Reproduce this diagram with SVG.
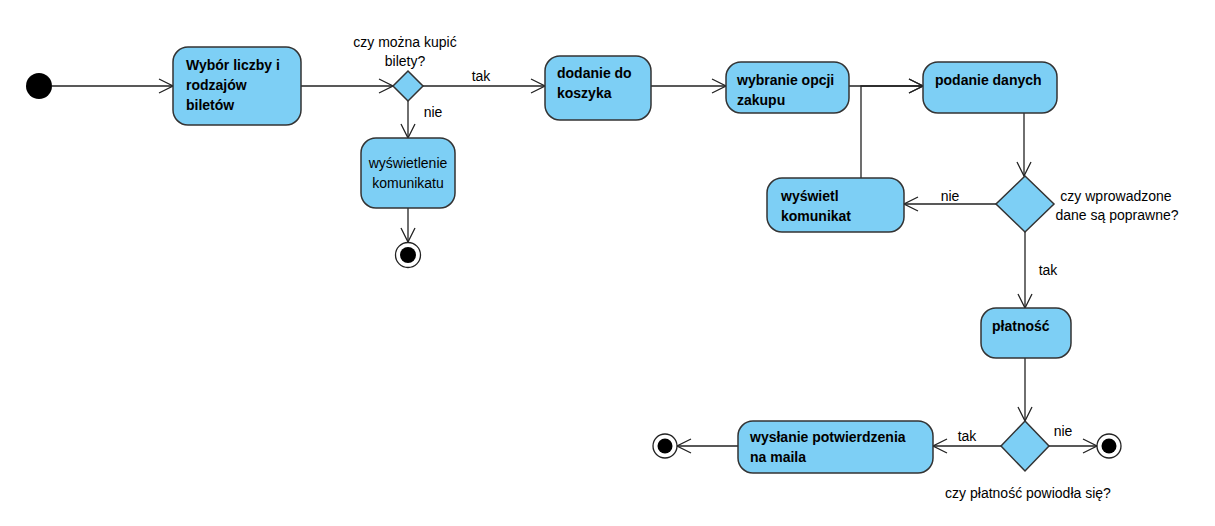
<svg xmlns="http://www.w3.org/2000/svg" width="1215" height="526" viewBox="0 0 1215 526">
  <defs>
    <marker id="arrow" viewBox="0 0 16 16" refX="15" refY="8" markerWidth="16" markerHeight="16" markerUnits="userSpaceOnUse" orient="auto">
      <path d="M1,1 L15,8 L1,15" fill="none" stroke="#222" stroke-width="1.3"/>
    </marker>
    <style>
      .node rect, .node polygon { fill: #7dcff5; stroke: #333; stroke-width: 1.5; }
      .bold { font-family: "Liberation Sans", Arial, sans-serif; font-size: 14px; font-weight: bold; fill: #000; }
      .txt { font-family: "Liberation Sans", Arial, sans-serif; font-size: 14px; fill: #000; }
      .mid { text-anchor: middle; }
      .conn line, .conn polyline { fill: none; stroke: #222; stroke-width: 1.3; marker-end: url(#arrow); }
    </style>
  </defs>
  <rect width="1215" height="526" fill="#fff"/>

  <!-- connectors -->
  <g id="connectors" class="conn">
    <line x1="52" y1="86" x2="173" y2="86"/>
    <line x1="301" y1="86" x2="393" y2="86"/>
    <line x1="423" y1="86" x2="545" y2="86"/>
    <line x1="408" y1="101" x2="408" y2="138"/>
    <line x1="408" y1="208" x2="408" y2="242"/>
    <line x1="651" y1="86" x2="726" y2="86"/>
    <line x1="849" y1="86" x2="923" y2="86"/>
    <polyline points="861,178 861,86 923,86"/>
    <line x1="1024" y1="113" x2="1024" y2="176"/>
    <line x1="996" y1="204" x2="904" y2="204"/>
    <line x1="1025" y1="232" x2="1025" y2="308"/>
    <line x1="1025" y1="358" x2="1025" y2="421"/>
    <line x1="1001" y1="446" x2="933" y2="446"/>
    <line x1="1049" y1="446" x2="1097" y2="446"/>
    <line x1="738" y1="446" x2="677" y2="446"/>
  </g>

  <!-- connector labels -->
  <g id="labels" class="txt">
    <text x="481" y="81" class="mid">tak</text>
    <text x="433" y="117" class="mid">nie</text>
    <text x="950" y="201" class="mid">nie</text>
    <text x="1048" y="275" class="mid">tak</text>
    <text x="967" y="441" class="mid">tak</text>
    <text x="1063" y="436" class="mid">nie</text>
  </g>

  <!-- start -->
  <g id="start">
    <circle cx="39" cy="86" r="13" fill="#000"/>
  </g>

  <g id="wybor" class="node">
    <rect x="173" y="47" width="128" height="78" rx="15"/>
    <text x="186" y="70" class="bold">Wybór liczby i</text>
    <text x="186" y="90" class="bold">rodzajów</text>
    <text x="186" y="110" class="bold">biletów</text>
  </g>

  <g id="decyzja-kupno" class="node">
    <polygon points="408,71 423,86 408,101 393,86"/>
    <text x="405" y="47" class="txt mid">czy można kupić</text>
    <text x="405" y="66" class="txt mid">bilety?</text>
  </g>

  <g id="wyswietlenie" class="node">
    <rect x="361" y="138" width="94" height="70" rx="15"/>
    <text x="408" y="168" class="txt mid">wyświetlenie</text>
    <text x="408" y="188" class="txt mid">komunikatu</text>
  </g>

  <g id="koniec-1">
    <circle cx="408" cy="255" r="12.5" fill="#fff" stroke="#222" stroke-width="1.3"/>
    <circle cx="408" cy="255" r="8" fill="#000"/>
  </g>

  <g id="dodanie" class="node">
    <rect x="545" y="56" width="106" height="64" rx="15"/>
    <text x="557" y="78" class="bold">dodanie do</text>
    <text x="557" y="98" class="bold">koszyka</text>
  </g>

  <g id="wybranie" class="node">
    <rect x="726" y="62" width="123" height="51" rx="15"/>
    <text x="737" y="85" class="bold">wybranie opcji</text>
    <text x="737" y="105" class="bold">zakupu</text>
  </g>

  <g id="podanie" class="node">
    <rect x="923" y="62" width="134" height="51" rx="15"/>
    <text x="935" y="85" class="bold">podanie danych</text>
  </g>

  <g id="wyswietl" class="node">
    <rect x="767" y="178" width="137" height="54" rx="15"/>
    <text x="781" y="201" class="bold">wyświetl</text>
    <text x="781" y="221" class="bold">komunikat</text>
  </g>

  <g id="decyzja-dane" class="node">
    <polygon points="1025,176 1054,204 1025,232 996,204"/>
    <text x="1116" y="201" class="txt mid">czy wprowadzone</text>
    <text x="1117" y="220" class="txt mid">dane są poprawne?</text>
  </g>

  <g id="platnosc" class="node">
    <rect x="981" y="308" width="90" height="50" rx="15"/>
    <text x="992" y="331" class="bold">płatność</text>
  </g>

  <g id="decyzja-platnosc" class="node">
    <polygon points="1025,421 1049,446 1025,471 1001,446"/>
    <text x="1028" y="498" class="txt mid">czy płatność powiodła się?</text>
  </g>

  <g id="wyslanie" class="node">
    <rect x="738" y="421" width="195" height="52" rx="15"/>
    <text x="750" y="442" class="bold">wysłanie potwierdzenia</text>
    <text x="750" y="462" class="bold">na maila</text>
  </g>

  <g id="koniec-2">
    <circle cx="665" cy="446" r="12" fill="#fff" stroke="#222" stroke-width="1.3"/>
    <circle cx="665" cy="446" r="7.5" fill="#000"/>
  </g>

  <g id="koniec-3">
    <circle cx="1109" cy="446" r="12" fill="#fff" stroke="#222" stroke-width="1.3"/>
    <circle cx="1109" cy="446" r="7.5" fill="#000"/>
  </g>
</svg>
